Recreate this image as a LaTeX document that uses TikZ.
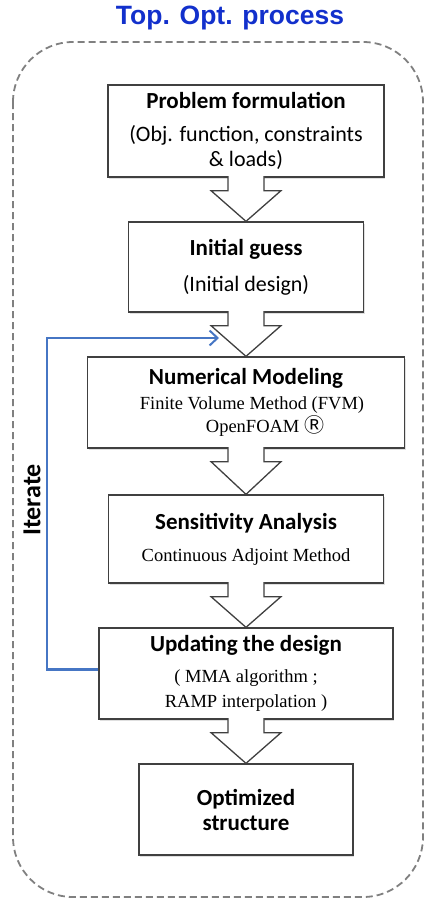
\documentclass[tikz,border=0pt]{standalone}
\usepackage{fontspec}
\usetikzlibrary{calc,arrows.meta,shadows}
\newfontfamily\calfont{Carlito}
\newfontfamily\tmsfont{Liberation Serif}
\newfontfamily\arlfont{Liberation Sans}
\newfontfamily\symfont{Noto Sans CJK JP}
\definecolor{top_blue}{RGB}{18, 48, 204}
\definecolor{loop_blue}{RGB}{70, 118, 196}
\definecolor{frame_grey}{RGB}{128, 128, 128}
\definecolor{box_grey}{RGB}{64, 64, 64}
\newcommand{\hd}{\calfont\bfseries\fontsize{23}{25}\selectfont}
\newcommand{\sbt}{\calfont\fontsize{22}{25}\selectfont}
\newcommand{\srf}{\tmsfont\fontsize{18.5}{25}\selectfont}
\tikzstyle{box}=[rectangle,draw=box_grey,fill=white,line width=1.3pt,
  inner sep=0pt,align=center,font=\sbt,
  drop shadow={opacity=0.25,shadow xshift=1pt,shadow yshift=-1.5pt}]
\tikzstyle{blk}=[draw=box_grey,fill=white,line width=1.3pt,line join=miter]
\tikzstyle{none}=[]
\newcommand{\blkarrow}[2]{%
  \draw [style=blk] ($(#1.south)+(-18,-1.5)$) -- ($(#1.south)+(-18,13)$)
    -- ($(#1.south)+(-35,13)$) -- (#2.north) -- ($(#1.south)+(35,13)$)
    -- ($(#1.south)+(18,13)$) -- ($(#1.south)+(18,-1.5)$);}

\begin{document}
\begin{tikzpicture}[x=1pt, y=-1pt]
    \useasboundingbox (0, 0) rectangle (425, 908);
    \draw [frame_grey, line width=1.8pt, dash pattern=on 7pt off 4pt, rounded corners=60pt] (13, 42) rectangle (423, 897);
    \node [style=none, text=top_blue] (title) at (230, 18) {\arlfont\bfseries\fontsize{26.5}{30}\selectfont Top. Opt. process};
    \node [style=box, minimum width=276, minimum height=92] (0) at (246, 131) {\hd Problem formulation\\[8pt]\sbt (Obj. function, constraints\\ \sbt \& loads)};
    \node [style=box, minimum width=235, minimum height=90] (1) at (246, 267) {\hd Initial guess\\[11pt]\sbt (Initial design)};
    \node [style=box, minimum width=317, minimum height=91] (2) at (246, 402.5) {\hd Numerical Modeling\\\srf \hspace*{12pt}Finite Volume Method (FVM)\\[-2pt] \srf \hspace*{38pt}OpenFOAM {\symfont\fontsize{20}{25}\selectfont Ⓡ}};
    \node [style=box, minimum width=275, minimum height=88] (3) at (246, 539) {\hd Sensitivity Analysis\\[7pt]\srf Continuous Adjoint Method};
    \node [style=box, minimum width=294, minimum height=91] (4) at (246, 673.5) {\hd Updating the design\\[6pt]\srf ( MMA algorithm ;\\ \srf RAMP interpolation )};
    \node [style=box, minimum width=214, minimum height=91] (5) at (246, 809.5) {\hd Optimized\\ \hd structure};
    \node [style=none, rotate=90] (it) at (32, 500) {\calfont\bfseries\fontsize{26}{30}\selectfont Iterate};
    \coordinate (back) at (219, 338);
    \blkarrow{0}{1}
    \blkarrow{1}{2}
    \blkarrow{2}{3}
    \blkarrow{3}{4}
    \blkarrow{4}{5}
    \draw [loop_blue, line width=2.6pt, -{Straight Barb[length=8pt, width=15pt, line width=2pt]}] ($(4.west)+(0,-4)$) -| (47, 338) -- (back);
\end{tikzpicture}
\end{document}
